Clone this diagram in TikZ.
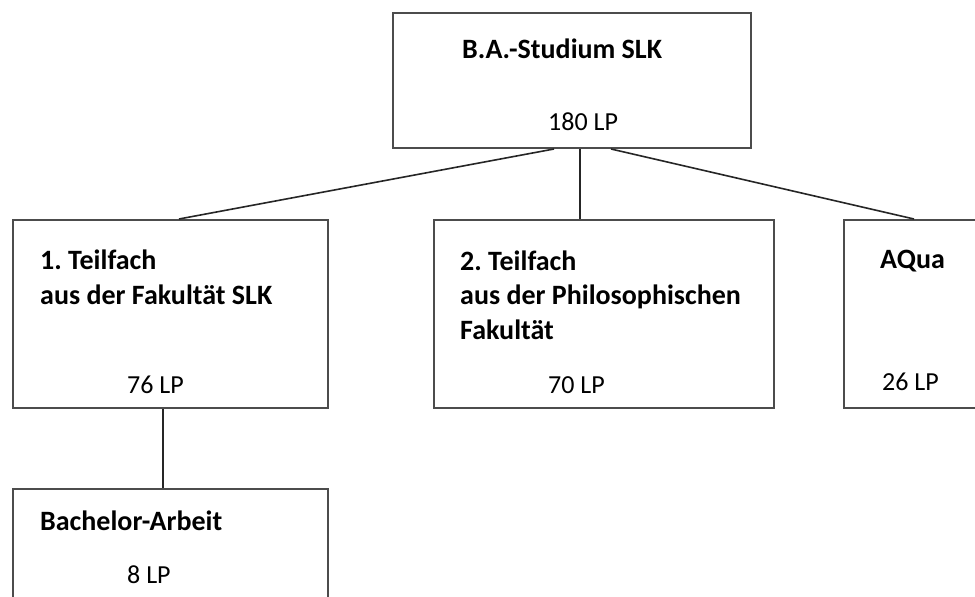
\documentclass[tikz,border=0pt]{standalone}
\usepackage{fontspec}
\setmainfont{Carlito}
\usetikzlibrary{positioning}
\frenchspacing

\begin{document}
\begin{tikzpicture}[x=1pt,y=-1pt,
  box/.style={draw=black!70,line width=2pt,rectangle,anchor=north west,inner sep=0pt},
  head/.style={anchor=base west,inner sep=0pt,align=left,font=\fontsize{28}{34.5}\selectfont\bfseries},
  lp/.style={anchor=base west,inner sep=0pt,font=\fontsize{26}{30}\selectfont},
  link/.style={draw=black!85,line width=1.6pt}]
    \clip (0,0) rectangle (975,597);

    % boxes
    \node[box,minimum width=358pt,minimum height=135pt] (studium) at (392,12) {};
    \node[box,minimum width=315pt,minimum height=188pt] (teil1) at (12,219) {};
    \node[box,minimum width=340pt,minimum height=188pt] (teil2) at (433,219) {};
    \node[box,minimum width=200pt,minimum height=188pt] (aqua) at (843,219) {};
    \node[box,minimum width=315pt,minimum height=150pt] (arbeit) at (12,488) {};

    % texts (multi-line nodes sit on their last baseline)
    \node[head] (studiumtxt) at (462,58) {B.A.-Studium SLK};
    \node[lp] (studiumlp) at (548,130) {180 LP};
    \node[head] (teil1txt) at (40,304) {1. Teilfach\\aus der Fakultät SLK};
    \node[lp] (teil1lp) at (127,393) {76 LP};
    \node[head] (teil2txt) at (460,339) {2. Teilfach\\aus der Philosophischen\\Fakultät};
    \node[lp] (teil2lp) at (548,393) {70 LP};
    \node[head] (aquatxt) at (880,268) {AQua};
    \node[lp] (aqualp) at (882,390) {26 LP};
    \node[head] (arbeittxt) at (40,530) {Bachelor-Arbeit};
    \node[lp] (arbeitlp) at (127,583) {8 LP};

    % connectors
    \path[link]
        ([xshift=-18pt]studium.south) edge ([xshift=8.5pt]teil1.north)
        ([xshift=8pt]studium.south) edge ([xshift=-24pt]teil2.north)
        ([xshift=39pt]studium.south) edge ([xshift=-30pt]aqua.north)
        ([xshift=-7.5pt]teil1.south) edge ([xshift=-7.5pt]arbeit.north)
    ;
\end{tikzpicture}
\end{document}
